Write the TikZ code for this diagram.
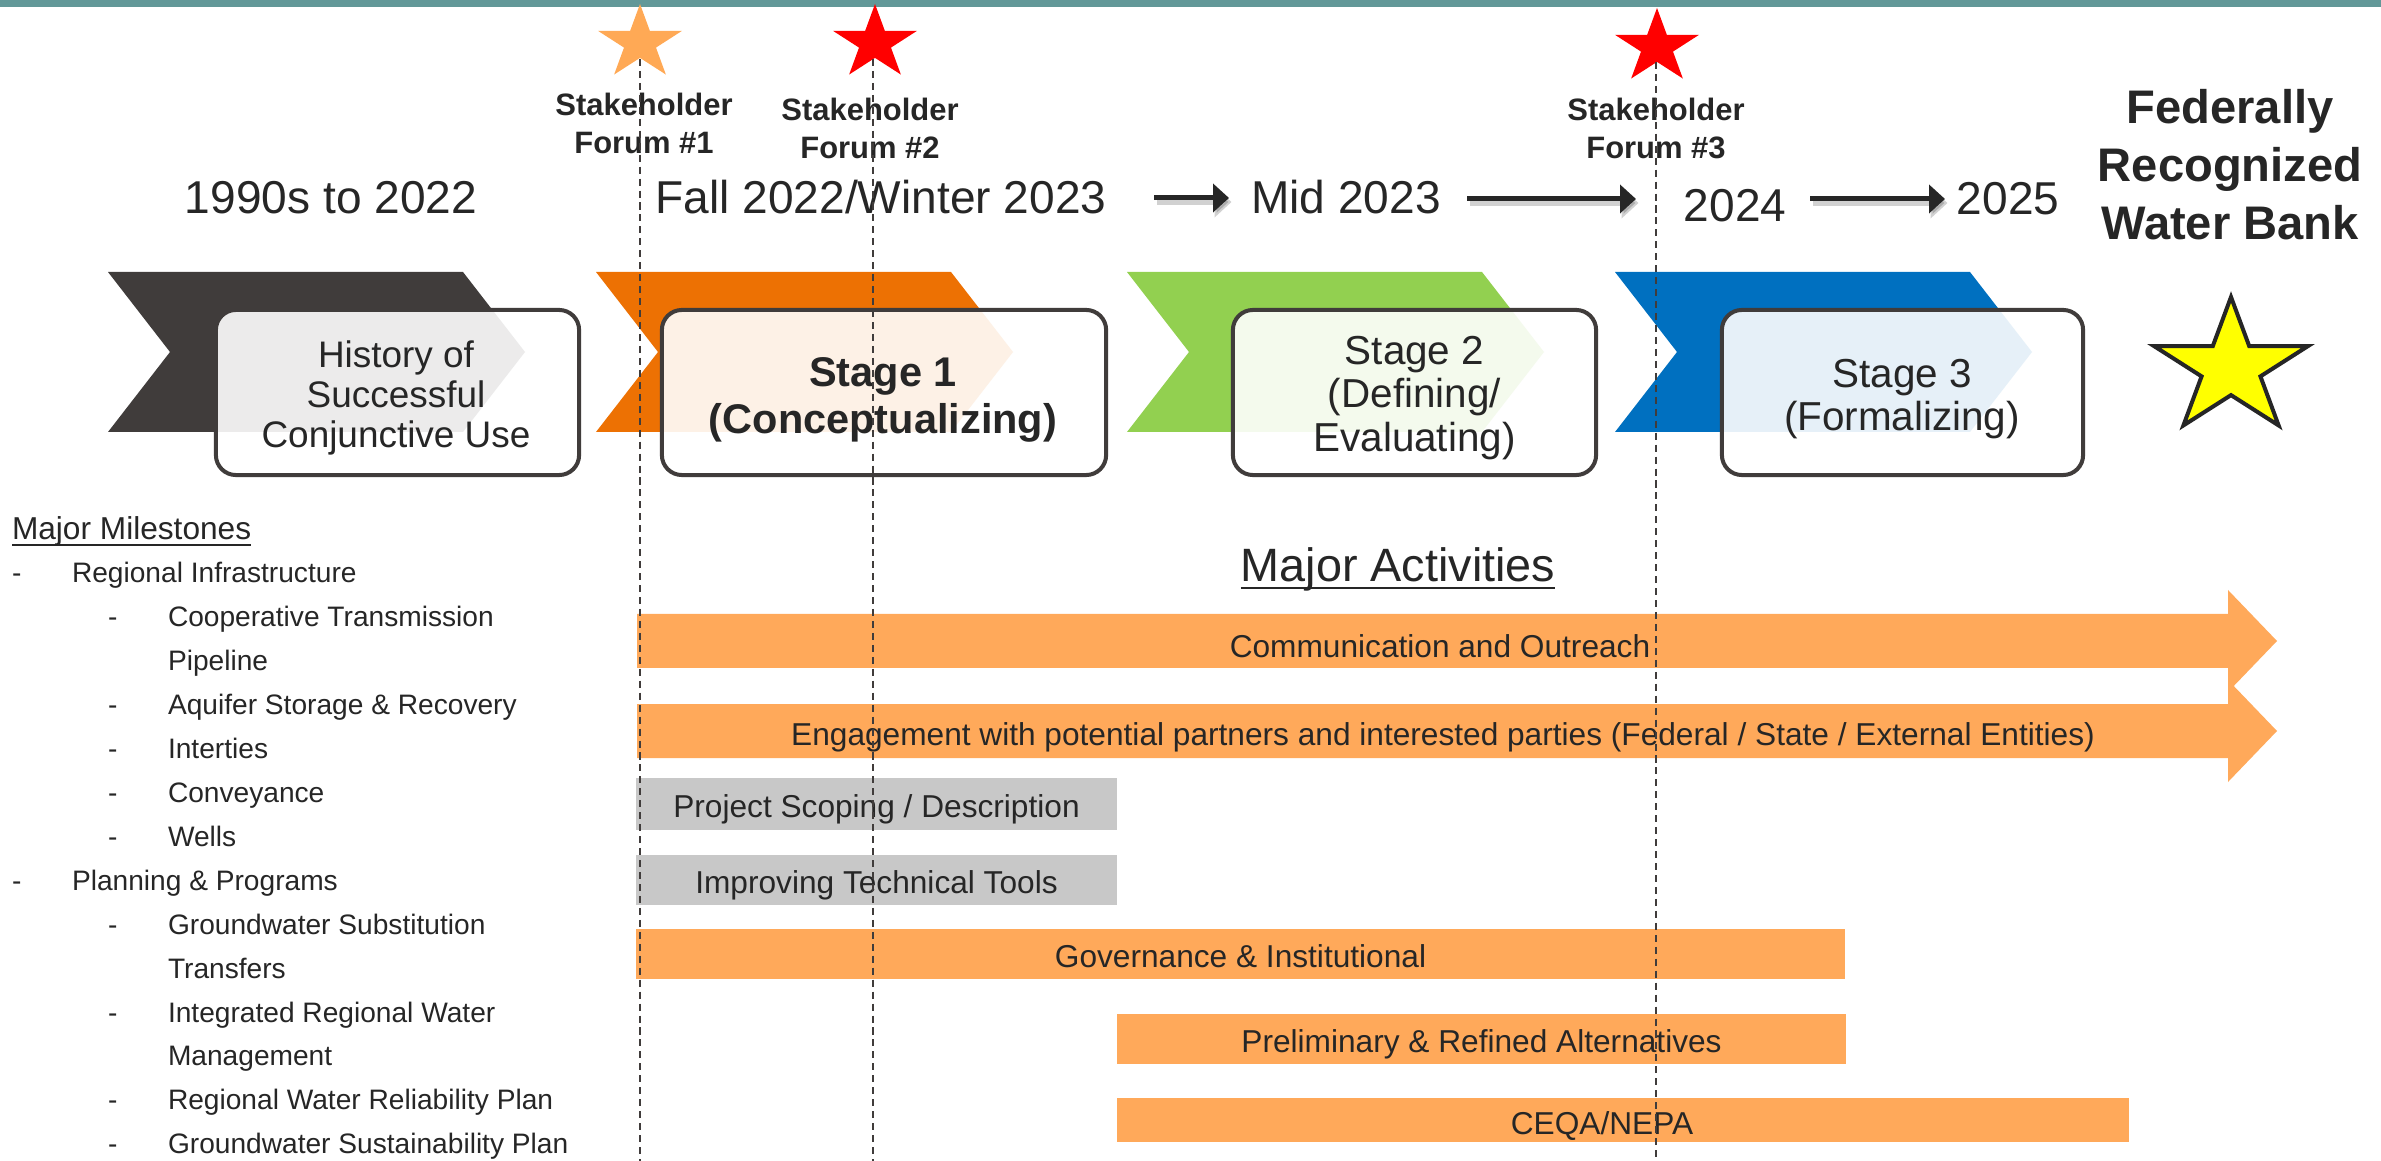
\documentclass[tikz,border=0pt]{standalone}
\usepackage{fontspec}
\setmainfont{Liberation Sans}
\usetikzlibrary{arrows.meta,calc}
\definecolor{cTeal}{HTML}{629898}
\definecolor{cDark}{HTML}{403C3B}
\definecolor{cOrange}{HTML}{ED7103}
\definecolor{cGreen}{HTML}{92D050}
\definecolor{cBlue}{HTML}{0070C0}
\definecolor{cText}{HTML}{262626}
\definecolor{cBar}{HTML}{FFA95A}
\definecolor{cGray}{HTML}{C8C8C8}
\definecolor{cLtOrange}{HTML}{FFA955}
\definecolor{cRed}{HTML}{FF0000}
\definecolor{cYellow}{HTML}{FFFF00}
\newcommand{\drawfivestar}[5]{% #1 options, #2 x, #3 y, #4 Rx, #5 Ry
  \pgfmathsetmacro{\strxi}{0.382*#4}\pgfmathsetmacro{\stryi}{0.382*#5}
  \path[#1] (#2,#3) +(-90:{#4} and {#5}) -- +(-54:{\strxi} and {\stryi}) -- +(-18:{#4} and {#5})
    -- +(18:{\strxi} and {\stryi}) -- +(54:{#4} and {#5}) -- +(90:{\strxi} and {\stryi})
    -- +(126:{#4} and {#5}) -- +(162:{\strxi} and {\stryi}) -- +(198:{#4} and {#5})
    -- +(234:{\strxi} and {\stryi}) -- cycle;}
\begin{document}
\begin{tikzpicture}[x=0.01cm,y=-0.01cm,
  txt/.style={text=cText, inner sep=0pt, outer sep=0pt},
  tl/.style={txt, font=\fontsize{13.1pt}{15.7pt}\selectfont, anchor=base},
  fed/.style={txt, font=\bfseries\fontsize{13.4pt}{16pt}\selectfont, anchor=base},
  sh/.style={txt, font=\bfseries\fontsize{8.8pt}{10.5pt}\selectfont, anchor=base},
  stagebox/.style={draw=cDark, line width=1.14pt, rounded corners=0.2cm, fill=white, fill opacity=0.9, minimum height=1.65cm, inner sep=0pt},
  boxtxt/.style={txt, align=center},
  barbox/.style={fill=#1, inner sep=0pt, outer sep=0pt, text=cText, font=\fontsize{9pt}{10.8pt}\selectfont, text height=0.26cm, text depth=0pt},
  bartxt/.style={txt, font=\fontsize{9pt}{10.8pt}\selectfont, text height=0.26cm, text depth=0pt},
  li/.style={txt, font=\fontsize{8pt}{9.6pt}\selectfont, anchor=base west},
  dashline/.style={draw=cDark, line width=0.55pt, dash pattern=on 2pt off 1.4pt},
  tlarrow/.style={draw=cText, line width=1.42pt, -{Triangle[length=0.16cm,width=0.28cm]}},
  tlshadow/.style={draw=black, opacity=0.18, line width=1.8pt, -{Triangle[length=0.17cm,width=0.3cm]}}
]
\useasboundingbox (0,0) rectangle (2381,1161);
\fill[white] (0,0) rectangle (2381,1161);
\fill[cTeal] (0,0) rectangle (2381,7);

% chevrons
\fill[cDark]   (108,272) -- ++(355,0) -- ++(62,80) -- ++(-62,80) -- ++(-355,0) -- ++(62,-80) -- cycle;
\fill[cOrange] (596,272) -- ++(355,0) -- ++(62,80) -- ++(-62,80) -- ++(-355,0) -- ++(62,-80) -- cycle;
\fill[cGreen]  (1127,272) -- ++(355,0) -- ++(62,80) -- ++(-62,80) -- ++(-355,0) -- ++(62,-80) -- cycle;
\fill[cBlue]   (1615,272) -- ++(355,0) -- ++(62,80) -- ++(-62,80) -- ++(-355,0) -- ++(62,-80) -- cycle;

% stage boxes
\node[stagebox, minimum width=3.63cm] (b1) at (397.5,392.5) {};
\node[stagebox, minimum width=4.44cm] (b2) at (884,392.5) {};
\node[stagebox, minimum width=3.63cm] (b3) at (1414.5,392.5) {};
\node[stagebox, minimum width=3.61cm] (b4) at (1902.5,392.5) {};
\node[boxtxt, font=\fontsize{10.5pt}{11.3pt}\selectfont] (b1t) at (396,398) {History of\\Successful\\Conjunctive Use};
\node[boxtxt, font=\bfseries\fontsize{11.8pt}{13.4pt}\selectfont] (b2t) at (883,400) {Stage 1\\(Conceptualizing)};
\node[boxtxt, font=\fontsize{11.5pt}{12.4pt}\selectfont] (b3t) at (1414.5,398) {Stage 2\\(Defining/\\Evaluating)};
\node[boxtxt, font=\fontsize{11.5pt}{12.3pt}\selectfont] (b4t) at (1902,399) {Stage 3\\(Formalizing)};

% stars
\drawfivestar{fill=cLtOrange}{640}{43}{44}{39}
\drawfivestar{fill=cRed}{875}{43}{44}{39}
\drawfivestar{fill=cRed}{1657}{47}{44}{39}
\drawfivestar{fill=cYellow, draw=cText, line width=1.14pt}{2231}{368}{81}{71}

% stakeholder labels
\node[sh] (f1a) at (644,116) {Stakeholder};
\node[sh] (f1b) at (644,154) {Forum \#1};
\node[sh] (f2a) at (870,121) {Stakeholder};
\node[sh] (f2b) at (870,159) {Forum \#2};
\node[sh] (f3a) at (1656,121) {Stakeholder};
\node[sh] (f3b) at (1656,159) {Forum \#3};

% timeline labels
\node[tl] (t1) at (331,214) {1990s to 2022};
\node[tl] (t2) at (881,214) {Fall 2022/Winter 2023};
\node[tl] (t3) at (1346,214) {Mid 2023};
\node[tl] (t4) at (1735,222) {2024};
\node[tl] (t5) at (2008,215) {2025};

\node[fed] (fed1) at (2230,124) {Federally};
\node[fed] (fed2) at (2230,182) {Recognized};
\node[fed] (fed3) at (2230,240) {Water Bank};

% timeline arrows
\coordinate (a1s) at (1154,198); \coordinate (a1e) at (1229,198);
\coordinate (a2s) at (1467,199); \coordinate (a2e) at (1636,199);
\coordinate (a3s) at (1810,199); \coordinate (a3e) at (1945,199);
\begin{scope}[transform canvas={shift={(0.025cm,-0.04cm)}}]
\draw[tlshadow] (a1s) -- (a1e);
\draw[tlshadow] (a2s) -- (a2e);
\draw[tlshadow] (a3s) -- (a3e);
\end{scope}
\draw[tlarrow] (a1s) -- (a1e);
\draw[tlarrow] (a2s) -- (a2e);
\draw[tlarrow] (a3s) -- (a3e);

% milestones list
\node[txt, anchor=base west, font=\fontsize{9pt}{10.8pt}\selectfont] (mm) at (12,540) {Major Milestones};
\draw[cText, line width=0.6pt] ($(mm.base west)+(0,5)$) -- ($(mm.base east)+(0,5)$);
\foreach \k/\dx/\tx/\tt in {
  0/12/72/{Regional Infrastructure},
  1/108/168/{Cooperative Transmission},
  2/0/168/{Pipeline},
  3/108/168/{Aquifer Storage \& Recovery},
  4/108/168/{Interties},
  5/108/168/{Conveyance},
  6/108/168/{Wells},
  7/12/72/{Planning \& Programs},
  8/108/168/{Groundwater Substitution},
  9/0/168/{Transfers},
  10/108/168/{Integrated Regional Water},
  11/0/168/{Management},
  12/108/168/{Regional Water Reliability Plan},
  13/108/168/{Groundwater Sustainability Plan}}{
  \pgfmathsetmacro{\yy}{583+\k*43.9}
  \ifnum\dx>0 \node[li] (ld\k) at (\dx,\yy) {-};\fi
  \node[li] (lt\k) at (\tx,\yy) {\tt};
}

% major activities
\node[txt, anchor=base, font=\fontsize{13.3pt}{16pt}\selectfont] (ma) at (1398,582) {Major Activities};
\draw[cText, line width=0.85pt] ($(ma.base west)+(0,6)$) -- ($(ma.base east)+(0,6)$);

\fill[cBar] (637,614) -- (2228,614) -- (2228,590) -- (2277,641) -- (2228,692) -- (2228,668) -- (637,668) -- cycle;
\node[bartxt] (comm) at (1440,644) {Communication and Outreach};
\fill[cBar] (637,704) -- (2228,704) -- (2228,680) -- (2277,731) -- (2228,782) -- (2228,758) -- (637,758) -- cycle;
\node[bartxt] (eng) at (1443,732) {Engagement with potential partners and interested parties (Federal / State / External Entities)};

\node[barbox=cGray, minimum width=4.81cm, minimum height=0.52cm] (scope) at (876.5,804) {Project Scoping / Description};
\node[barbox=cGray, minimum width=4.81cm, minimum height=0.50cm] (tools) at (876.5,880) {Improving Technical Tools};
\node[barbox=cBar, minimum width=12.09cm, minimum height=0.50cm] (gov) at (1240.5,954) {Governance \& Institutional};
\node[barbox=cBar, minimum width=7.29cm, minimum height=0.50cm] (alt) at (1481.5,1039) {Preliminary \& Refined Alternatives};
\node[barbox=cBar, minimum width=10.12cm, minimum height=0.44cm] (ceqa) at (1623,1120) {};
\node[bartxt] (ceqat) at (1602,1121) {CEQA/NEPA};

% dashed forum lines
\coordinate (d1t) at (640,59); \coordinate (d1b) at (640,1161);
\coordinate (d2t) at (873,59); \coordinate (d2b) at (873,1161);
\coordinate (d3t) at (1656,62); \coordinate (d3b) at (1656,1161);
\draw[dashline] (d1t) -- (d1b);
\draw[dashline] (d2t) -- (d2b);
\draw[dashline] (d3t) -- (d3b);
\end{tikzpicture}
\end{document}
